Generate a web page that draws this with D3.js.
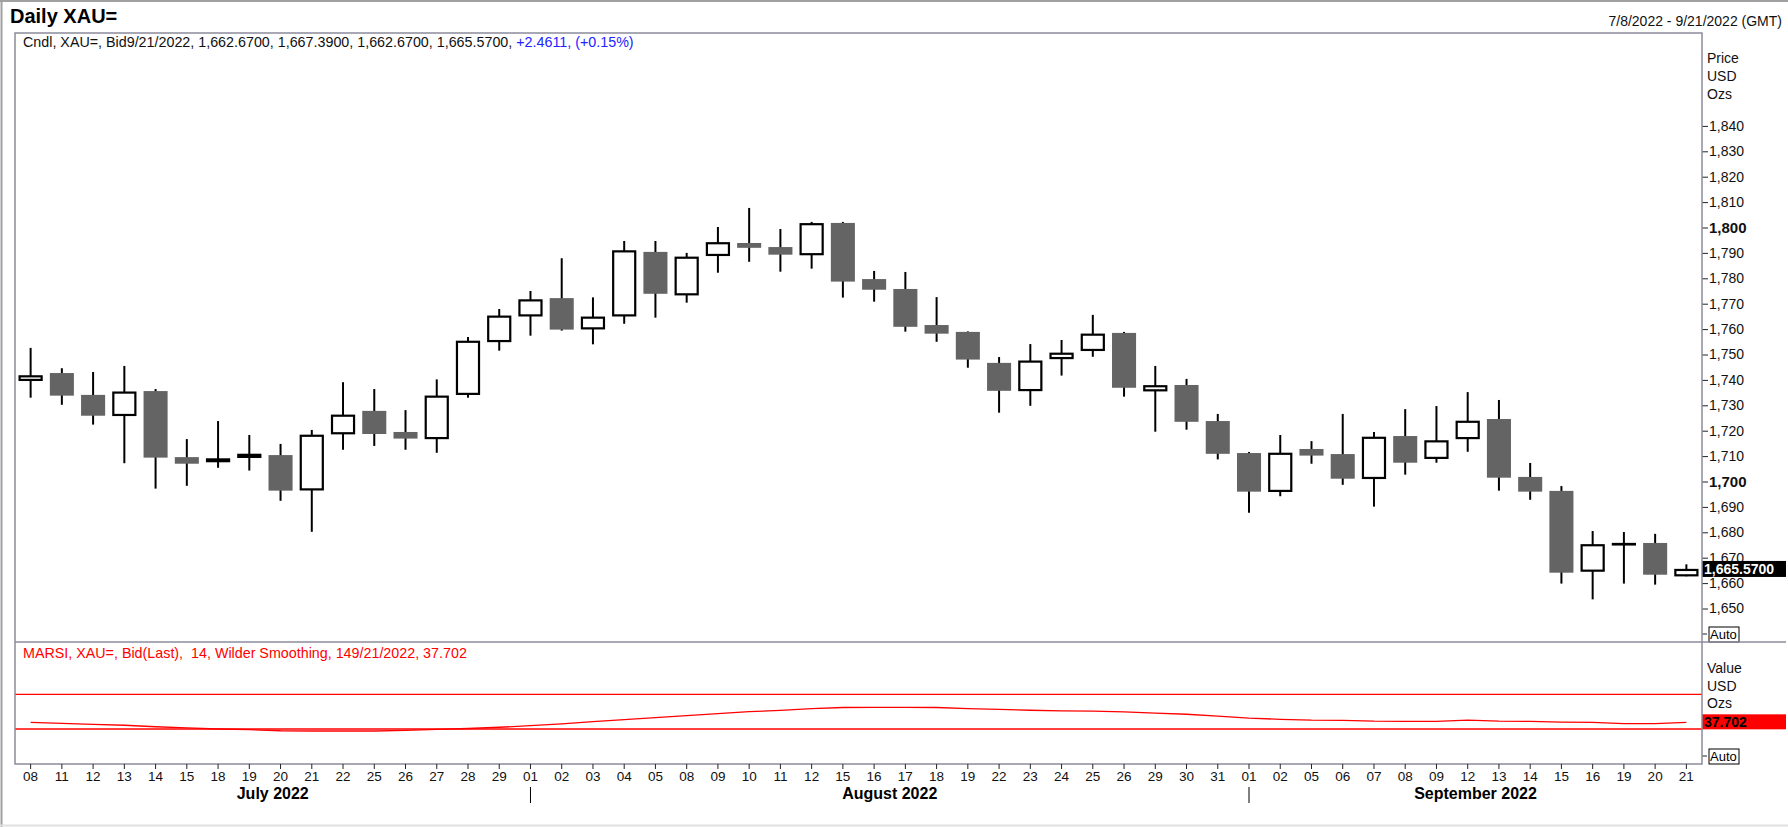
<!DOCTYPE html>
<html>
<head>
<meta charset="utf-8">
<script src="https://cdn.jsdelivr.net/npm/d3@7"></script>
<style>
  body { margin: 0; background: #fff; }
  svg { display: block; font-family: "Liberation Sans", Arial, sans-serif; }
</style>
</head>
<body>
<div id="chart"></div>
<script>
// trading days shown on the chart
var dates = [
  "2022-07-08", "2022-07-11", "2022-07-12", "2022-07-13", "2022-07-14", "2022-07-15",
  "2022-07-18", "2022-07-19", "2022-07-20", "2022-07-21", "2022-07-22", "2022-07-25",
  "2022-07-26", "2022-07-27", "2022-07-28", "2022-07-29",
  "2022-08-01", "2022-08-02", "2022-08-03", "2022-08-04", "2022-08-05", "2022-08-08",
  "2022-08-09", "2022-08-10", "2022-08-11", "2022-08-12", "2022-08-15", "2022-08-16",
  "2022-08-17", "2022-08-18", "2022-08-19", "2022-08-22", "2022-08-23", "2022-08-24",
  "2022-08-25", "2022-08-26", "2022-08-29", "2022-08-30", "2022-08-31",
  "2022-09-01", "2022-09-02", "2022-09-05", "2022-09-06", "2022-09-07", "2022-09-08",
  "2022-09-09", "2022-09-12", "2022-09-13", "2022-09-14", "2022-09-15", "2022-09-16",
  "2022-09-19", "2022-09-20", "2022-09-21"
];

// OHLC
var openPx = [
  1739.6, 1742.7, 1734.1, 1725.8, 1735.6, 1709.6, 1707.6, 1709.3, 1710.4, 1696.5, 1718.6, 1727.8,
  1719.5, 1716.7, 1734.1, 1754.9,
  1765.0, 1772.2, 1759.9, 1765.0, 1790.4, 1773.3, 1788.8, 1793.9, 1792.3, 1789.1, 1801.8, 1779.7,
  1775.8, 1761.6, 1758.9, 1746.7, 1735.6, 1748.2, 1751.4, 1758.5, 1735.5, 1738.0, 1723.8,
  1711.2, 1695.9, 1712.8, 1710.8, 1701.0, 1717.9, 1708.9, 1716.7, 1724.6, 1701.8, 1696.3, 1664.5,
  1675.3, 1675.8, 1662.67
];
var highPx = [
  1752.6, 1744.6, 1743.1, 1745.5, 1736.4, 1716.7, 1723.8, 1718.3, 1714.8, 1720.3, 1739.1, 1736.4,
  1728.1, 1740.2, 1756.9, 1767.9,
  1775.0, 1787.9, 1772.5, 1794.7, 1794.7, 1790.0, 1800.2, 1807.7, 1799.4, 1802.2, 1802.2, 1782.9,
  1782.5, 1772.6, 1759.1, 1749.0, 1754.1, 1755.7, 1765.6, 1758.9, 1745.5, 1740.4, 1726.6,
  1711.6, 1718.3, 1715.9, 1726.6, 1719.5, 1728.5, 1729.7, 1735.2, 1732.1, 1707.3, 1698.2, 1680.5,
  1680.1, 1679.4, 1667.39
];
var lowPx = [
  1733.0, 1730.2, 1722.4, 1707.2, 1697.2, 1698.3, 1705.4, 1704.3, 1692.4, 1680.2, 1712.5, 1714.0,
  1712.5, 1711.3, 1733.0, 1751.5,
  1757.4, 1759.4, 1754.0, 1762.1, 1764.5, 1770.4, 1782.2, 1786.5, 1782.6, 1783.8, 1772.4, 1770.8,
  1759.0, 1755.0, 1744.8, 1727.1, 1729.8, 1741.7, 1749.1, 1733.4, 1719.6, 1720.4, 1708.7,
  1687.7, 1694.2, 1707.0, 1698.7, 1690.1, 1702.7, 1707.4, 1711.7, 1696.4, 1692.8, 1659.8, 1653.6,
  1659.8, 1659.4, 1662.67
];
var closePx = [
  1741.8, 1733.8, 1725.9, 1735.4, 1709.4, 1707.0, 1709.1, 1710.9, 1696.4, 1718.4, 1726.3, 1718.7,
  1716.9, 1733.8, 1755.4, 1765.3,
  1771.7, 1759.8, 1764.9, 1791.0, 1773.9, 1788.5, 1794.2, 1792.0, 1789.3, 1801.7, 1778.7, 1775.5,
  1760.9, 1758.2, 1748.0, 1735.7, 1747.6, 1750.7, 1758.2, 1736.9, 1737.9, 1723.5, 1710.9,
  1696.0, 1711.3, 1710.2, 1701.1, 1717.6, 1707.4, 1716.2, 1723.9, 1701.5, 1696.0, 1664.1, 1675.3,
  1675.8, 1663.3, 1665.57
];

// MARSI line
var rsiValues = [
  37.7, 36.6, 35.4, 34.3, 32.6, 31.2, 30.0, 29.2, 28.0, 27.7, 27.7, 27.7, 28.5, 29.6, 30.6, 32.0,
  33.8, 36.0, 38.4, 40.8, 43.0, 45.4, 47.7, 50.0, 51.5, 53.4, 54.8, 55.0, 55.0, 54.8, 53.6, 52.6,
  51.6, 50.8, 50.6, 49.8, 48.4, 47.0, 44.8,
  42.5, 41.2, 40.2, 40.0, 39.0, 38.8, 38.8, 40.2, 39.0, 38.8, 37.9, 37.6, 36.2, 36.1, 37.7
];
var rsiBands = [30, 70];

var priceTicks = d3.range(1650, 1841, 10);
var boldTicks = [1700, 1800];
var monthNames = ["July 2022", "August 2022", "September 2022"];
var monthFirstDays = ["2022-07-08", "2022-08-01", "2022-09-01"];

var lastPrice = "1,665.5700";
var lastRsi = "37.702";

var svgWidth = 1788, svgHeight = 827;
var plot = { left: 15, right: 1702, top: 33, split: 642, bottom: 764 };
var frameColor = "#8c8c9c";

var svg = d3.select("#chart").append("svg")
  .attr("width", svgWidth)
  .attr("height", svgHeight);

// outer frame
svg.append("line").attr("x1", 0).attr("x2", svgWidth).attr("y1", 1).attr("y2", 1)
  .attr("stroke", "#a0a0a0").attr("stroke-width", 2);
svg.append("line").attr("x1", 1.5).attr("x2", 1.5).attr("y1", 0).attr("y2", svgHeight)
  .attr("stroke", "#a0a0a0").attr("stroke-width", 2);
svg.append("line").attr("x1", 0).attr("x2", svgWidth).attr("y1", 825.5).attr("y2", 825.5)
  .attr("stroke", "#e0e0e0").attr("stroke-width", 2);

// scales
var x = d3.scaleBand()
  .domain(dates)
  .range([plot.left, plot.right])
  .paddingInner(0.23)
  .paddingOuter(0.115);
var cx = d => x(d) + x.bandwidth() / 2;

var y = d3.scaleLinear().domain([1650, 1840]).range([608.5, 125.9]);
var yRsi = d3.scaleLinear().domain([30, 70]).range([729, 694.3]);

// titles
svg.append("text")
  .attr("x", 10).attr("y", 23)
  .style("font-size", "20px").style("font-weight", "bold")
  .text("Daily XAU=");
svg.append("text")
  .attr("x", 1782).attr("y", 26)
  .attr("text-anchor", "end")
  .style("font-size", "14px").attr("fill", "#111")
  .text("7/8/2022 - 9/21/2022 (GMT)");

var info = svg.append("text")
  .attr("x", 23).attr("y", 47)
  .style("font-size", "14.3px");
info.append("tspan").attr("fill", "#111")
  .text("Cndl, XAU=, Bid9/21/2022, 1,662.6700, 1,667.3900, 1,662.6700, 1,665.5700, ");
info.append("tspan").attr("fill", "#2323ff").text("+2.4611, (+0.15%)");

// clip for the price panel
svg.append("clipPath").attr("id", "priceClip")
  .append("rect")
  .attr("x", plot.left).attr("y", plot.top)
  .attr("width", plot.right - plot.left).attr("height", plot.split - plot.top);

var candles = dates.map(function(d, i) {
  return { date: d, open: openPx[i], high: highPx[i], low: lowPx[i], close: closePx[i] };
});

var candleGroup = svg.append("g").attr("clip-path", "url(#priceClip)");

// wicks
candleGroup.selectAll("line.wick")
  .data(candles)
  .enter()
  .append("line")
  .attr("class", "wick")
  .attr("x1", d => cx(d.date)).attr("x2", d => cx(d.date))
  .attr("y1", d => y(d.high)).attr("y2", d => y(d.low))
  .attr("stroke", "#000").attr("stroke-width", 2);

// bodies: hollow when up, grey when down
candleGroup.selectAll("rect.body")
  .data(candles)
  .enter()
  .append("rect")
  .attr("class", "body")
  .attr("x", d => x(d.date) + (d.close >= d.open ? 1 : 0))
  .attr("width", d => x.bandwidth() - (d.close >= d.open ? 2 : 0))
  .attr("y", d => y(Math.max(d.open, d.close)) + (d.close >= d.open ? 1 : 0))
  .attr("height", d => Math.max(0.5, Math.abs(y(d.open) - y(d.close)) - (d.close >= d.open ? 2 : 0)))
  .attr("fill", d => d.close >= d.open ? "#fff" : "#646464")
  .attr("stroke", d => d.close >= d.open ? "#000" : "none")
  .attr("stroke-width", 2.2);

// price axis on the right
var rightAxis = d3.axisRight(y)
  .tickValues(priceTicks)
  .tickFormat(d3.format(","))
  .tickSize(6)
  .tickPadding(1);
var yAxis = svg.append("g")
  .attr("transform", `translate(${plot.right}, 0)`)
  .call(rightAxis);
yAxis.select(".domain").remove();
yAxis.selectAll("line").attr("stroke", "#222");
yAxis.selectAll("text")
  .style("font-family", "'Liberation Sans', Arial, sans-serif")
  .attr("fill", "#111")
  .style("font-weight", d => boldTicks.indexOf(d) >= 0 ? "bold" : "normal")
  .style("font-size", d => boldTicks.indexOf(d) >= 0 ? "15px" : "14px");

["Price", "USD", "Ozs"].forEach(function(t, i) {
  svg.append("text").attr("x", 1707).attr("y", 63 + i * 18)
    .style("font-size", "14px").attr("fill", "#111").text(t);
});

// last price marker
svg.append("rect")
  .attr("x", plot.right).attr("y", y(closePx[closePx.length - 1]) - 8)
  .attr("width", 84).attr("height", 16).attr("fill", "#000");
svg.append("text")
  .attr("x", plot.right + 2).attr("y", y(closePx[closePx.length - 1]) + 5)
  .style("font-size", "14px").style("font-weight", "bold").attr("fill", "#fff")
  .text(lastPrice);

function autoBox(yPos) {
  svg.append("line").attr("x1", plot.right).attr("x2", plot.right + 5)
    .attr("y1", yPos).attr("y2", yPos).attr("stroke", "#222");
  svg.append("rect").attr("x", 1709).attr("y", yPos - 7).attr("width", 30).attr("height", 15)
    .attr("fill", "#fff").attr("stroke", "#000").attr("stroke-width", 1);
  svg.append("text").attr("x", 1710).attr("y", yPos + 5)
    .style("font-size", "13px").attr("fill", "#000").text("Auto");
}
autoBox(634);
autoBox(756);

// RSI panel
svg.append("text")
  .attr("x", 23).attr("y", 658)
  .style("font-size", "14.3px").style("white-space", "pre").attr("fill", "#ff0000")
  .text("MARSI, XAU=, Bid(Last),  14, Wilder Smoothing, 149/21/2022, 37.702");

svg.selectAll("line.band")
  .data(rsiBands)
  .enter()
  .append("line")
  .attr("class", "band")
  .attr("x1", plot.left).attr("x2", plot.right)
  .attr("y1", d => yRsi(d)).attr("y2", d => yRsi(d))
  .attr("stroke", "#ff0000").attr("stroke-width", 1.3);

var rsiLine = d3.line()
  .x(d => cx(d.date))
  .y(d => yRsi(d.value));
svg.append("path")
  .datum(dates.map((d, i) => ({ date: d, value: rsiValues[i] })))
  .attr("d", rsiLine)
  .attr("fill", "none")
  .attr("stroke", "#ff0000")
  .attr("stroke-width", 1.3);

["Value", "USD", "Ozs"].forEach(function(t, i) {
  svg.append("text").attr("x", 1707).attr("y", 673 + i * 17.5)
    .style("font-size", "14px").attr("fill", "#111").text(t);
});
svg.append("rect")
  .attr("x", plot.right).attr("y", yRsi(rsiValues[rsiValues.length - 1]) - 8)
  .attr("width", 84).attr("height", 15).attr("fill", "#ff0000");
svg.append("text")
  .attr("x", plot.right + 2).attr("y", yRsi(rsiValues[rsiValues.length - 1]) + 5)
  .style("font-size", "14px").style("font-weight", "bold").attr("fill", "#000")
  .text(lastRsi);

// panel frames
svg.append("rect")
  .attr("x", plot.left).attr("y", plot.top)
  .attr("width", plot.right - plot.left).attr("height", plot.bottom - plot.top)
  .attr("fill", "none").attr("stroke", frameColor).attr("stroke-width", 1.5);
svg.append("line")
  .attr("x1", plot.left).attr("x2", 1786)
  .attr("y1", plot.split).attr("y2", plot.split)
  .attr("stroke", frameColor).attr("stroke-width", 1.5);

// date axis
var bottomAxis = d3.axisBottom(x)
  .tickFormat(d => d.slice(8))
  .tickSize(5)
  .tickPadding(2);
var xAxis = svg.append("g")
  .attr("transform", `translate(0, ${plot.bottom})`)
  .call(bottomAxis);
xAxis.select(".domain").remove();
xAxis.selectAll("line").attr("stroke", "#222");
xAxis.selectAll("text")
  .style("font-size", "13.5px")
  .style("font-family", "'Liberation Sans', Arial, sans-serif")
  .attr("fill", "#111");

// month labels and separators
var monthEdges = monthFirstDays.map((d, i) => i === 0 ? plot.left : cx(d)).concat([plot.right]);
monthNames.forEach(function(m, i) {
  svg.append("text")
    .attr("x", (monthEdges[i] + monthEdges[i + 1]) / 2)
    .attr("y", 799)
    .attr("text-anchor", "middle")
    .style("font-size", "16px").style("font-weight", "bold").attr("fill", "#000")
    .text(m);
  if (i > 0) {
    svg.append("line")
      .attr("x1", monthEdges[i]).attr("x2", monthEdges[i])
      .attr("y1", 787).attr("y2", 803)
      .attr("stroke", "#000").attr("stroke-width", 1);
  }
});
</script>
</body>
</html>
